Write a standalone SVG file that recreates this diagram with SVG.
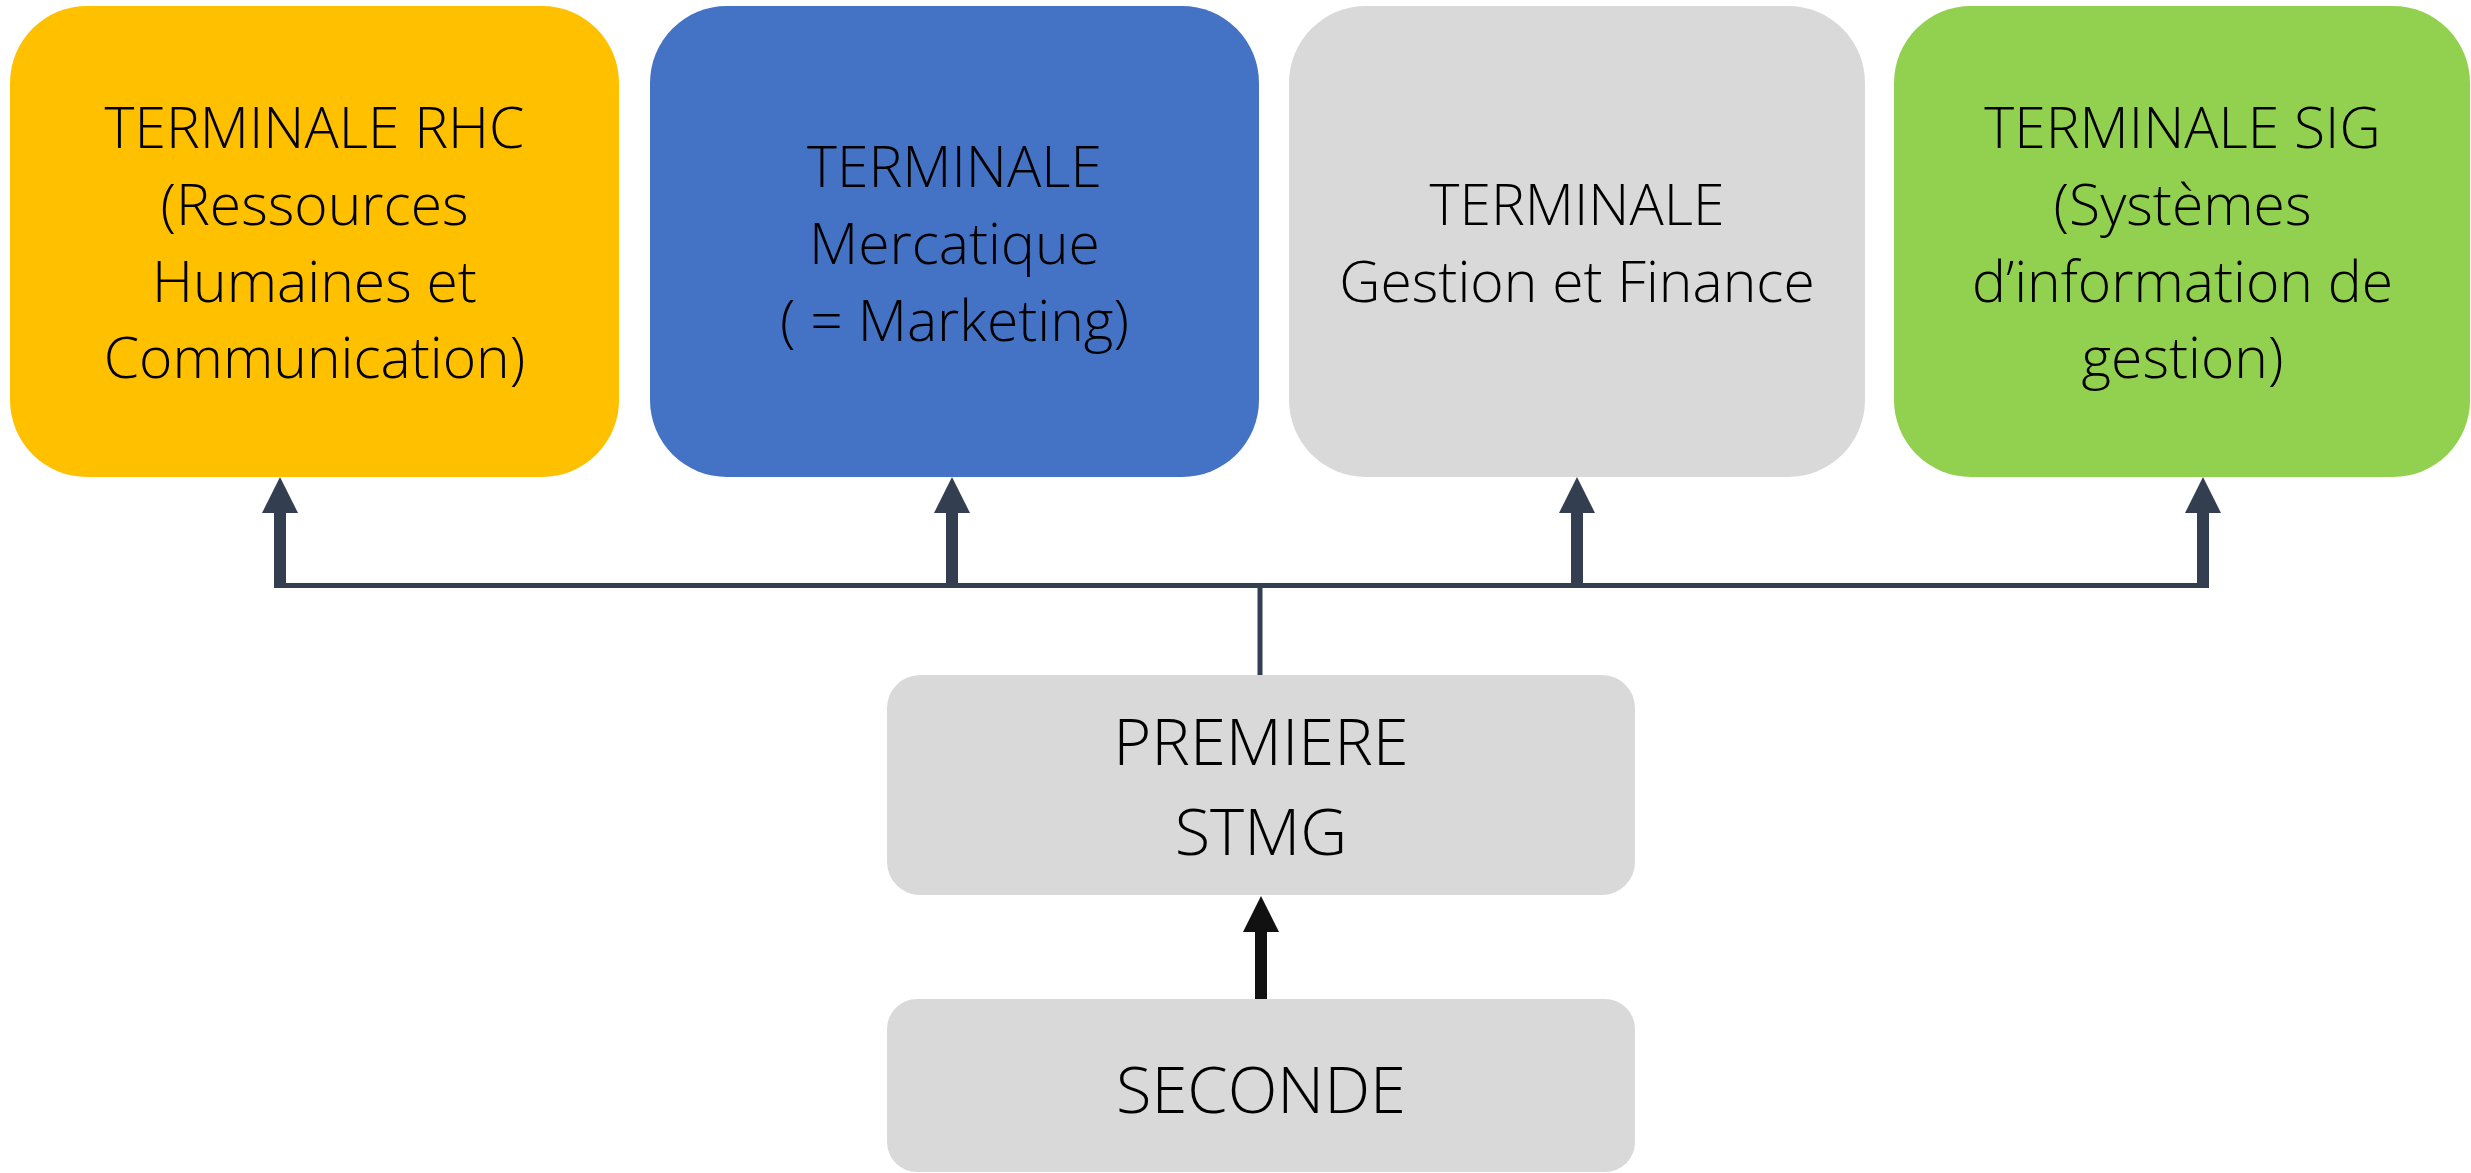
<svg xmlns="http://www.w3.org/2000/svg" width="2471" height="1173" viewBox="0 0 2471 1173">
<style>
.t{font-family:"Open Sans","Liberation Sans",sans-serif;font-weight:300;fill:#000;text-anchor:middle}
.top{font-size:57px}
.mid{font-size:65px}
.c{stroke:#333F50;fill:none}
</style>
<defs>
<marker id="hd" markerUnits="userSpaceOnUse" markerWidth="36" markerHeight="36" refX="0" refY="18" orient="auto" viewBox="0 0 36 36"><path d="M0,0 L36,18 L0,36 Z" fill="#333F50"/></marker>
<marker id="hk" markerUnits="userSpaceOnUse" markerWidth="36" markerHeight="36" refX="0" refY="18" orient="auto" viewBox="0 0 36 36"><path d="M0,0 L36,18 L0,36 Z" fill="#111111"/></marker>
</defs>
<rect width="2471" height="1173" fill="#fff"/>
<g id="rhc">
<rect x="10" y="6" width="609" height="471" rx="77" fill="#FFC000"/>
<text class="t top" x="314.5" y="148">TERMINALE RHC</text>
<text class="t top" x="314.5" y="225">(Ressources</text>
<text class="t top" x="314.5" y="302">Humaines et</text>
<text class="t top" x="314.5" y="378">Communication)</text>
</g>
<g id="mercatique">
<rect x="650" y="6" width="609" height="471" rx="77" fill="#4472C4"/>
<text class="t top" x="954.5" y="187">TERMINALE</text>
<text class="t top" x="954.5" y="264">Mercatique</text>
<text class="t top" x="954.5" y="341">( = Marketing)</text>
</g>
<g id="gf">
<rect x="1289" y="6" width="576" height="471" rx="77" fill="#D9D9D9"/>
<text class="t top" x="1577" y="225">TERMINALE</text>
<text class="t top" x="1577" y="302">Gestion et Finance</text>
</g>
<g id="sig">
<rect x="1894" y="6" width="576" height="471" rx="77" fill="#92D050"/>
<text class="t top" x="2182.5" y="148">TERMINALE SIG</text>
<text class="t top" x="2182.5" y="225">(Systèmes</text>
<text class="t top" x="2182.5" y="302">d’information de</text>
<text class="t top" x="2182.5" y="378">gestion)</text>
</g>
<g id="premiere">
<rect x="887" y="675" width="748" height="220" rx="33" fill="#D9D9D9"/>
<text class="t mid" x="1261" y="765">PREMIERE</text>
<text class="t mid" x="1261" y="855">STMG</text>
</g>
<g id="seconde">
<rect x="887" y="999" width="748" height="173" rx="30" fill="#D9D9D9"/>
<text class="t mid" x="1261" y="1113">SECONDE</text>
</g>
<g id="connectors">
<line class="c" x1="277.5" y1="585.5" x2="2205.5" y2="585.5" stroke-width="5"/>
<line class="c" x1="1260" y1="585" x2="1260" y2="675" stroke-width="5"/>
<line class="c" x1="280" y1="588" x2="280" y2="513" stroke-width="12" marker-end="url(#hd)"/>
<line class="c" x1="952" y1="588" x2="952" y2="513" stroke-width="12" marker-end="url(#hd)"/>
<line class="c" x1="1577" y1="588" x2="1577" y2="513" stroke-width="12" marker-end="url(#hd)"/>
<line class="c" x1="2203" y1="588" x2="2203" y2="513" stroke-width="12" marker-end="url(#hd)"/>
<line x1="1261" y1="999" x2="1261" y2="932" stroke="#111111" stroke-width="12" marker-end="url(#hk)"/>
</g>
</svg>
